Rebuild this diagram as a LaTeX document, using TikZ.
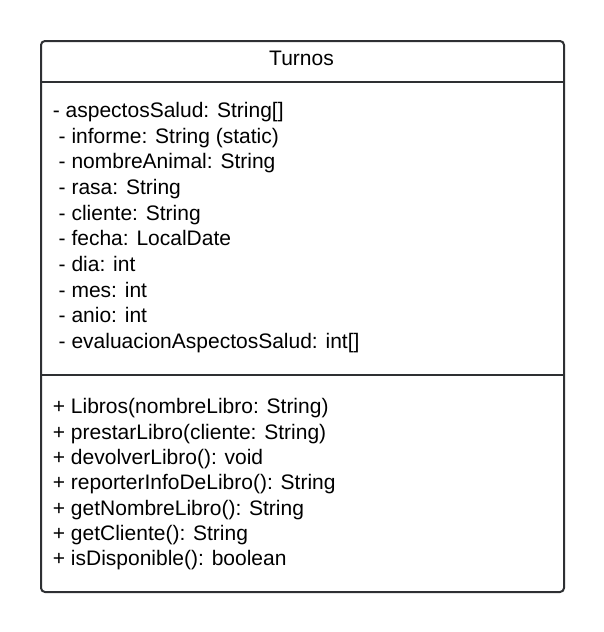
\documentclass[tikz,border=0pt]{standalone}
\usepackage{fontspec}
\setmainfont{Liberation Sans}
\usepackage{xcolor}
\usepackage{tikz}
\usetikzlibrary{positioning, calc}

\definecolor{linea}{HTML}{2E3033}

\begin{document}
\begin{tikzpicture}[x=1pt, y=-1pt]
    \useasboundingbox (0,0) rectangle (603,632);

    % clase
    \node[draw=linea, line width=2pt, rounded corners=4pt, anchor=north west,
          minimum width=523pt, minimum height=551pt, inner sep=0pt] (clase) at (40,40) {};
    \node[font=\fontsize{21}{25}\selectfont, anchor=base, inner sep=0pt] (titulo) at (301.5, 65.5) {Turnos};

    % separadores
    \coordinate (s1w) at (40, 81.5);
    \coordinate (s1e) at (563, 81.5);
    \coordinate (s2w) at (40, 374.5);
    \coordinate (s2e) at (563, 374.5);
    \draw[linea, line width=2pt] (s1w) -- (s1e);
    \draw[linea, line width=2pt] (s2w) -- (s2e);

    % atributos
    \tikzset{miembro/.style={font=\fontsize{21}{25}\selectfont, anchor=base west, inner sep=0pt}}
    \node[miembro] (a1) at (52.7, 117.3) {- aspectosSalud: String[]};
    \node[miembro] (a2) at (52.7, 143.0) {\ - informe: String (static)};
    \node[miembro] (a3) at (52.7, 168.6) {\ - nombreAnimal: String};
    \node[miembro] (a4) at (52.7, 194.3) {\ - rasa: String};
    \node[miembro] (a5) at (52.7, 220.0) {\ - cliente: String};
    \node[miembro] (a6) at (52.7, 245.6) {\ - fecha: LocalDate};
    \node[miembro] (a7) at (52.7, 271.3) {\ - dia: int};
    \node[miembro] (a8) at (52.7, 297.0) {\ - mes: int};
    \node[miembro] (a9) at (52.7, 322.7) {\ - anio: int};
    \node[miembro] (a10) at (52.7, 348.3) {\ - evaluacionAspectosSalud: int[]};

    % metodos
    \node[miembro] (m1) at (52.7, 413.7) {+ Libros(nombreLibro: String)};
    \node[miembro] (m2) at (52.7, 439.0) {+ prestarLibro(cliente: String)};
    \node[miembro] (m3) at (52.7, 464.4) {+ devolverLibro(): void};
    \node[miembro] (m4) at (52.7, 489.7) {+ reporterInfoDeLibro(): String};
    \node[miembro] (m5) at (52.7, 515.0) {+ getNombreLibro(): String};
    \node[miembro] (m6) at (52.7, 540.4) {+ getCliente(): String};
    \node[miembro] (m7) at (52.7, 565.7) {+ isDisponible(): boolean};
\end{tikzpicture}
\end{document}
